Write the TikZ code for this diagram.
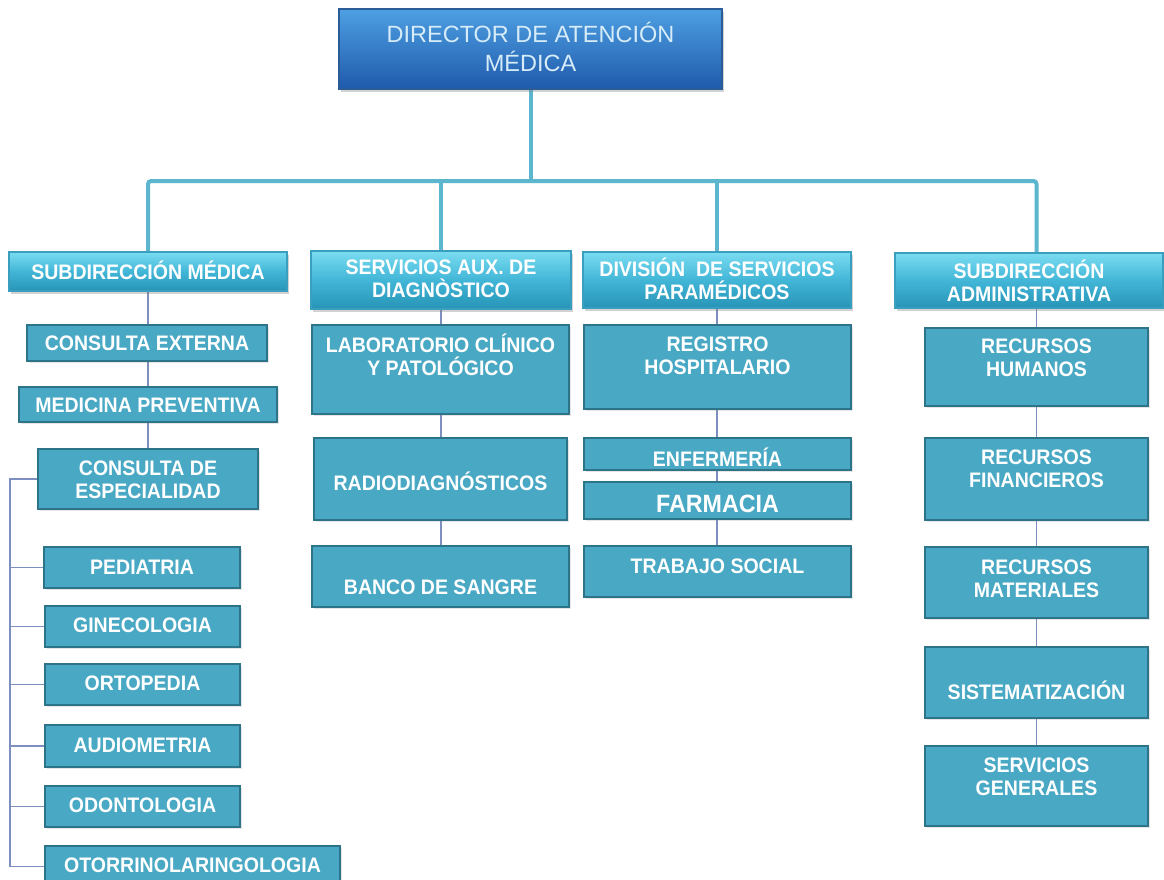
\documentclass[tikz,border=0pt]{standalone}
\usepackage{fontspec}
\setmainfont{Liberation Sans}
\newfontfamily\boxfont{Liberation Sans}[FakeStretch=0.93]
\usetikzlibrary{shadows,backgrounds}
\definecolor{topA}{HTML}{4E9FE2}
\definecolor{topB}{HTML}{1F5AAB}
\definecolor{topEdge}{HTML}{2A5C98}
\definecolor{topText}{HTML}{D6ECF8}
\definecolor{hdrA}{HTML}{7ADCF1}
\definecolor{hdrM}{HTML}{42B6D7}
\definecolor{hdrB}{HTML}{2794B6}
\definecolor{hdrEdge}{HTML}{3A9FBE}
\definecolor{cFill}{HTML}{49A8C4}
\definecolor{cEdge}{HTML}{2D7489}
\definecolor{bigLine}{HTML}{5BB6CE}
\definecolor{thinLine}{HTML}{7D8FBF}
\newcommand\obox[8]{%
  \node[#2, minimum width=#5-#3, minimum height=#6-#4] (#1) at ({(#3+#5)/2},{(#4+#6)/2}) {};
  \node[txt] (#1-t) at ({(#3+#5)/2},#7) {#8};}
\begin{document}
\begin{tikzpicture}[x=1pt,y=-1pt,
  base/.style={rectangle, inner sep=0pt, outer sep=0pt},
  topbox/.style={base, top color=topA, bottom color=topB, draw=topEdge, line width=1.5pt,
     drop shadow={opacity=0.35, shadow xshift=2pt, shadow yshift=-3pt}},
  hdr/.style={base, top color=hdrA, bottom color=hdrB, middle color=hdrM, draw=hdrEdge, line width=1.2pt,
     drop shadow={opacity=0.35, shadow xshift=2pt, shadow yshift=-3pt}},
  child/.style={base, fill=cFill, draw=cEdge, line width=2.2pt,
     drop shadow={opacity=0.2, shadow xshift=1.5pt, shadow yshift=-2pt}},
  txt/.style={inner sep=0pt, align=center, text=white, font=\boxfont\bfseries\fontsize{21}{23.5}\selectfont},
  toptxt/.style={inner sep=0pt, align=center, text=topText, font=\fontsize{23.5}{29}\selectfont},
  bigtxt/.style={inner sep=0pt, align=center, text=white, font=\boxfont\bfseries\fontsize{25}{28}\selectfont},
  bigconn/.style={draw=bigLine, line width=4pt, rounded corners=3pt},
  thinconn/.style={draw=thinLine, line width=1.5pt}]
\useasboundingbox (0,0) rectangle (1164,880);
\clip (0,0) rectangle (1164,880);
% top
\node[topbox, minimum width=383, minimum height=80] (top) at (530.5,49) {};
\node[toptxt] (top-t) at (530.5,47) {DIRECTOR DE ATENCIÓN\\MÉDICA};
% headers
\obox{SM}{hdr}{9}{252}{287}{291}{270}{SUBDIRECCIÓN MÉDICA}
\obox{SAD}{hdr}{311}{251}{571}{309}{279}{SERVICIOS AUX. DE\\DIAGNÒSTICO}
\obox{DSP}{hdr}{583}{252}{851}{308}{279}{DIVISIÓN\ \ DE SERVICIOS\\PARAMÉDICOS}
\obox{SA}{hdr}{895}{253}{1163}{308}{281}{SUBDIRECCIÓN\\ADMINISTRATIVA}
% column 1
\obox{CE}{child}{27}{325}{267}{361}{343}{CONSULTA EXTERNA}
\obox{MP}{child}{19}{387}{277}{422}{405}{MEDICINA PREVENTIVA}
\obox{CdE}{child}{38}{449}{258}{509}{480}{CONSULTA DE\\ESPECIALIDAD}
\obox{Ped}{child}{44}{547}{240}{588}{567}{PEDIATRIA}
\obox{Gin}{child}{45}{606}{240}{647}{625}{GINECOLOGIA}
\obox{Ort}{child}{45}{664}{240}{705}{683}{ORTOPEDIA}
\obox{Aud}{child}{45}{725}{240}{767}{745}{AUDIOMETRIA}
\obox{Odo}{child}{45}{786}{240}{827}{805}{ODONTOLOGIA}
\obox{Oto}{child}{45}{846}{340}{887}{865}{OTORRINOLARINGOLOGIA}
% column 2
\obox{Lab}{child}{312}{325}{569}{414}{355}{LABORATORIO CLÍNICO\\Y PATOLÓGICO}
\obox{Rad}{child}{314}{438}{567}{520}{481}{RADIODIAGNÓSTICOS}
\obox{Ban}{child}{312}{546}{569}{607}{587}{BANCO DE SANGRE}
% column 3
\obox{Reg}{child}{584}{325}{851}{409}{356}{REGISTRO\\HOSPITALARIO}
\obox{Enf}{child}{584}{438}{851}{470}{457}{ENFERMERÍA}
\node[child, minimum width=267, minimum height=37] (Far) at (717.5,500.5) {};
\node[bigtxt] (Far-t) at (717.5,504) {FARMACIA};
\obox{TS}{child}{584}{546}{851}{597}{566}{TRABAJO SOCIAL}
% column 4
\obox{RH}{child}{925}{328}{1148}{406}{358}{RECURSOS\\HUMANOS}
\obox{RF}{child}{925}{438}{1148}{520}{469}{RECURSOS\\FINANCIEROS}
\obox{RM}{child}{925}{547}{1148}{618}{579}{RECURSOS\\MATERIALES}
\obox{Sis}{child}{925}{647}{1148}{718}{690}{SISTEMATIZACIÓN}
\obox{SG}{child}{925}{746}{1148}{826}{777}{SERVICIOS\\GENERALES}
% connectors
\coordinate (bar) at (0,181);
\coordinate (bk) at (10,0);
\begin{pgfonlayer}{background}
\fill[white] (0,0) rectangle (1164,880);
\draw[bigconn] (top.south) -- (top.south |- bar);
\draw[bigconn] (SM.north) -- (SM.north |- bar) -| (SA.north -| RH.north);
\draw[bigconn] (SAD.north) -- (SAD.north |- bar);
\draw[bigconn] (DSP.north) -- (DSP.north |- bar);
\draw[thinconn] (SM.south) -- (CdE.north -| SM.south);
\draw[thinconn] (SAD.south) -- (Ban.north -| SAD.south);
\draw[thinconn] (DSP.south) -- (TS.north -| DSP.south);
\draw[thinconn] (SA.south -| RH.north) -- (SG.north);
\draw[thinconn] (CdE.west) -| (bk |- Oto.west) -- (Oto.west);
\foreach \n in {Ped,Gin,Ort,Aud,Odo} \draw[thinconn] (bk |- \n.west) -- (\n.west);
\end{pgfonlayer}
\end{tikzpicture}
\end{document}
